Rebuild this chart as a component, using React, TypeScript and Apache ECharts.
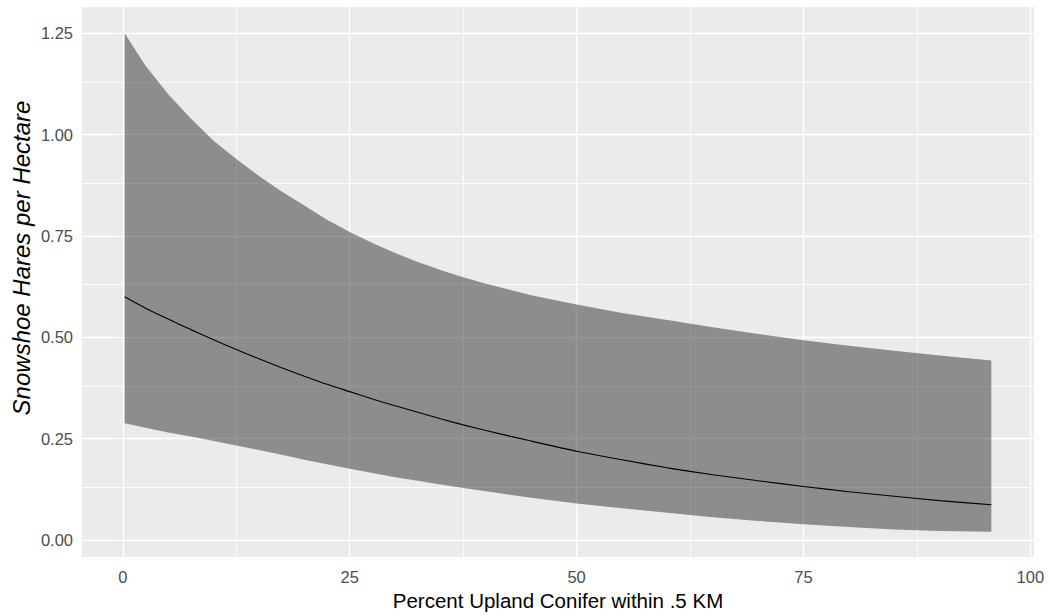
import React, { useEffect, useRef } from "react";
import * as echarts from "echarts";

const xValues = [0.2, 2.5, 5, 7.5, 10, 12.5, 15, 17.5, 20, 22.5, 25, 27.5, 30, 32.5, 35, 37.5, 40, 45, 50, 55, 60, 65, 70, 75, 80, 85, 90, 95.7];
const upperValues = [1.25, 1.17, 1.10, 1.04, 0.985, 0.94, 0.898, 0.86, 0.825, 0.79, 0.76, 0.733, 0.708, 0.686, 0.666, 0.648, 0.632, 0.604, 0.581, 0.56, 0.543, 0.525, 0.508, 0.493, 0.479, 0.467, 0.455, 0.443];
const meanValues = [0.60, 0.572, 0.545, 0.519, 0.494, 0.47, 0.447, 0.425, 0.404, 0.384, 0.366, 0.348, 0.331, 0.315, 0.299, 0.284, 0.27, 0.244, 0.219, 0.198, 0.178, 0.161, 0.146, 0.132, 0.119, 0.108, 0.097, 0.087];
const lowerValues = [0.288, 0.277, 0.265, 0.255, 0.244, 0.233, 0.222, 0.21, 0.198, 0.187, 0.176, 0.165, 0.155, 0.146, 0.137, 0.128, 0.12, 0.104, 0.09, 0.078, 0.067, 0.056, 0.047, 0.039, 0.032, 0.026, 0.022, 0.020];

const xTicks = [0, 25, 50, 75, 100];
const xMinor = [12.5, 37.5, 62.5, 87.5];
const yTicks = [0, 0.25, 0.5, 0.75, 1.0, 1.25];
const yMinor = [0.125, 0.375, 0.625, 0.875, 1.125];

const xTitle = "Percent Upland Conifer within .5 KM";
const yTitle = "Snowshoe Hares per Hectare";

const FONT = "'Liberation Sans', Arial, sans-serif";

export default function App() {
  const ref = useRef<HTMLDivElement>(null);
  useEffect(() => {
    if (!ref.current) return;
    const chart = echarts.init(ref.current, undefined, { renderer: "svg" });
    const grid = (v: number[], axis: "xAxis" | "yAxis", width: number) =>
      v.map((val) => ({ [axis]: val, lineStyle: { color: "#ffffff", width, type: "solid" } }));
    const option: any = {
      animation: false,
      backgroundColor: "#ffffff",
      grid: {
        left: 82,
        right: 16,
        top: 7,
        bottom: 59,
        show: true,
        backgroundColor: "#EBEBEB",
        borderWidth: 0,
      },
      graphic: [
        {
          type: "text",
          x: 21,
          y: 258,
          rotation: Math.PI / 2,
          style: {
            text: yTitle,
            fill: "#000000",
            fontSize: 24,
            fontFamily: FONT,
            fontStyle: "italic",
            align: "center",
            verticalAlign: "middle",
          },
        },
      ],
      xAxis: {
        type: "value",
        min: -4.5,
        max: 100.4,
        axisLine: { show: false },
        splitLine: { show: false },
        axisTick: {
          show: true,
          customValues: xTicks,
          length: 4,
          lineStyle: { color: "#333333", width: 1.1 },
        },
        axisLabel: {
          customValues: xTicks,
          color: "#4D4D4D",
          fontSize: 16.5,
          fontFamily: FONT,
          margin: 11,
        },
        name: xTitle,
        nameLocation: "middle",
        nameGap: 28,
        nameTextStyle: { color: "#000000", fontSize: 20.5, fontFamily: FONT },
      },
      yAxis: {
        type: "value",
        min: -0.042,
        max: 1.315,
        axisLine: { show: false },
        splitLine: { show: false },
        axisTick: {
          show: true,
          customValues: yTicks,
          length: 4,
          lineStyle: { color: "#333333", width: 1.1 },
        },
        axisLabel: {
          customValues: yTicks,
          color: "#4D4D4D",
          fontSize: 16.5,
          fontFamily: FONT,
          margin: 9,
          formatter: (v: number) => v.toFixed(2),
        },
      },
      series: [
        {
          type: "custom",
          name: "band",
          data: [[0]],
          clip: true,
          z: 2,
          renderItem: (params: any, api: any) => {
            const pts: number[][] = [];
            for (let i = 0; i < xValues.length; i++) pts.push(api.coord([xValues[i], upperValues[i]]));
            for (let i = xValues.length - 1; i >= 0; i--) pts.push(api.coord([xValues[i], lowerValues[i]]));
            return {
              type: "polygon",
              shape: { points: pts },
              style: { fill: "rgba(0,0,0,0.4)", stroke: "none" },
            };
          },
          markLine: {
            silent: true,
            symbol: ["none", "none"],
            label: { show: false },
            z: 1,
            data: [
              ...grid(xMinor, "xAxis", 0.8),
              ...grid(yMinor, "yAxis", 0.8),
              ...grid(xTicks, "xAxis", 1.4),
              ...grid(yTicks, "yAxis", 1.4),
            ],
          },
        },
        {
          type: "line",
          name: "mean",
          data: xValues.map((x, i) => [x, meanValues[i]]),
          showSymbol: false,
          symbol: "none",
          smooth: 0.2,
          lineStyle: { color: "#000000", width: 1.1 },
          z: 3,
        },
      ],
    };
    chart.setOption(option);
    return () => chart.dispose();
  }, []);
  return <div ref={ref} style={{ width: 1050, height: 616, position: "absolute", left: 0, top: 0 }} />;
}
